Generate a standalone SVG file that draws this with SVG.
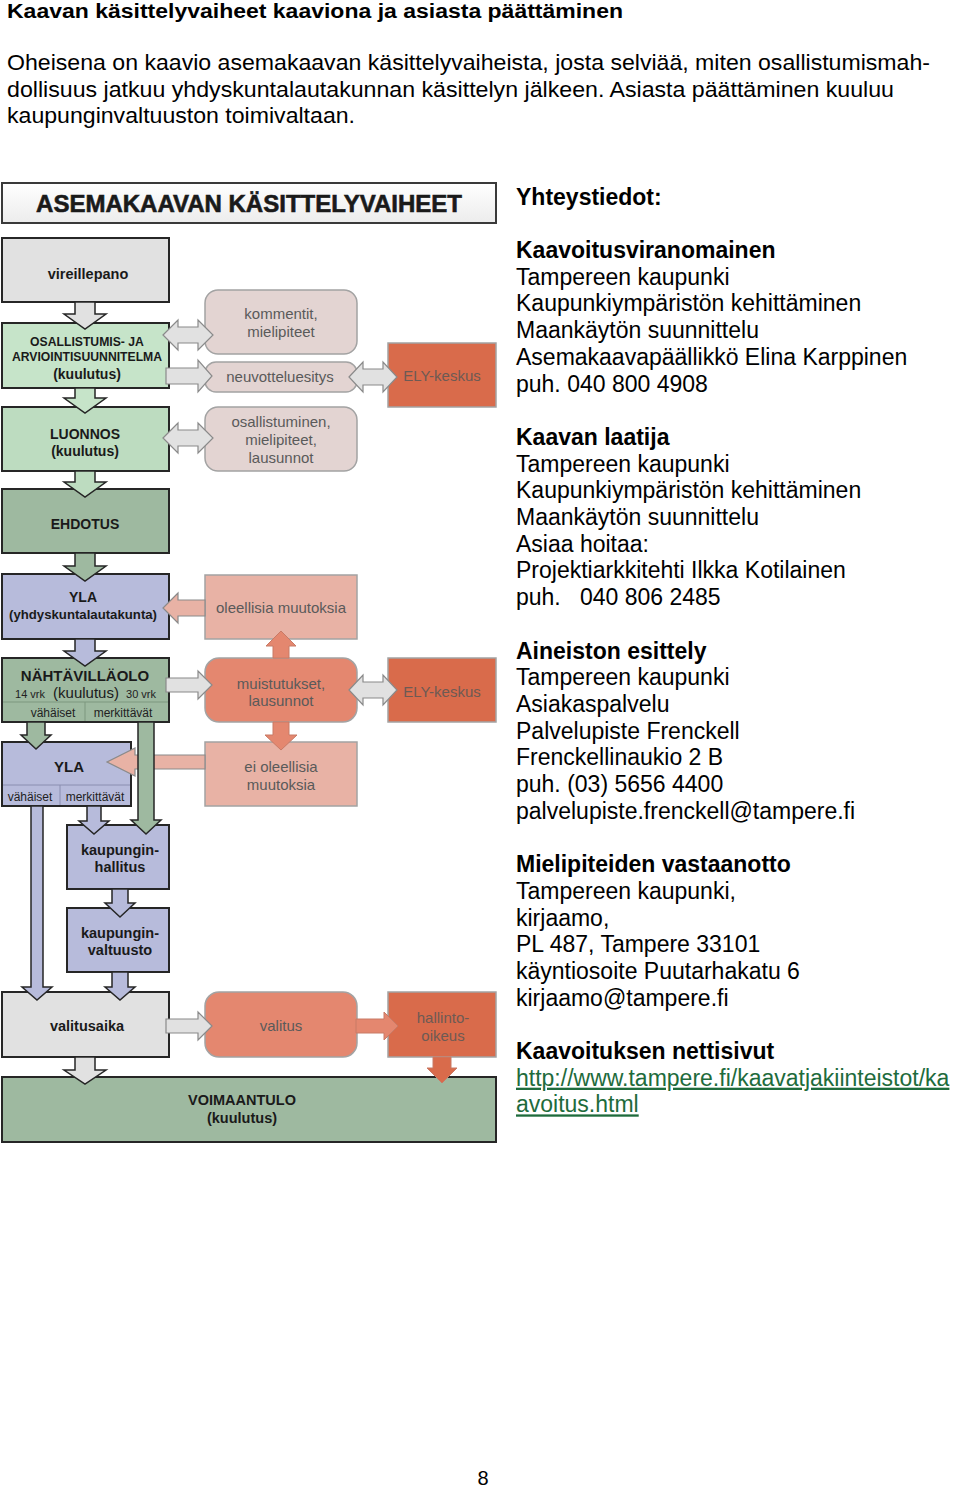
<svg xmlns="http://www.w3.org/2000/svg" width="960" height="1487" viewBox="0 0 960 1487">
<defs>
<linearGradient id="tg" x1="0" y1="0" x2="0" y2="1"><stop offset="0" stop-color="#ffffff"/><stop offset="1" stop-color="#ececec"/></linearGradient>
</defs>
<style>
text{font-family:"Liberation Sans",Arial,sans-serif}
.hd{font-size:20px;font-weight:bold;fill:#000}
.bd{font-size:22px;fill:#000}
.rt{font-size:23px;fill:#000}
.rb{font-size:23px;font-weight:bold;fill:#000}
.lk{font-size:23px;fill:#1e6b3c;text-decoration:underline}
.lb{stroke:#262626;stroke-width:2}
.mb{stroke:#a3a3a3;stroke-width:1.5}
.t{font-weight:bold;fill:#1a1a1a;text-anchor:middle}
.m{fill:#5a5a5a;text-anchor:middle;font-size:15px}
.e{fill:#6d5a54;text-anchor:middle;font-size:15px}
.s{fill:#222;text-anchor:middle;font-size:12px}
.gray{fill:#e1e1e1}.lg1{fill:#c6e4c9}.lg2{fill:#bddcc0}.dg{fill:#9eb9a0}.lav{fill:#b7bbdb}
.pk{fill:#e3d4d2}.sl{fill:#e8b2a5}.sa{fill:#e4876f}.or{fill:#d96b4b}
.la{stroke:#262626;stroke-width:1.5;stroke-linejoin:miter}
.ma{stroke:#8a8a8a;stroke-width:1.2}
.sa2{stroke:#c87a66;stroke-width:1}
</style>

<!-- page text -->
<text class="hd" x="7" y="18" textLength="616" lengthAdjust="spacingAndGlyphs">Kaavan käsittelyvaiheet kaaviona ja asiasta päättäminen</text>
<text class="bd" x="7" y="70" textLength="923" lengthAdjust="spacingAndGlyphs">Oheisena on kaavio asemakaavan käsittelyvaiheista, josta selviää, miten osallistumismah-</text>
<text class="bd" x="7" y="97" textLength="887" lengthAdjust="spacingAndGlyphs">dollisuus jatkuu yhdyskuntalautakunnan käsittelyn jälkeen. Asiasta päättäminen kuuluu</text>
<text class="bd" x="7" y="123" textLength="348" lengthAdjust="spacingAndGlyphs">kaupunginvaltuuston toimivaltaan.</text>

<!-- diagram title -->
<g id="title">
<rect x="2" y="183" width="494" height="40" fill="url(#tg)" stroke="#3a3a3a" stroke-width="2"/>
<text x="249" y="212" text-anchor="middle" font-size="24" font-weight="bold" fill="#1a1a1a" stroke="#1a1a1a" stroke-width="0.6">ASEMAKAAVAN KÄSITTELYVAIHEET</text>
</g>

<!-- left column -->
<g id="vireillepano">
<rect class="lb gray" x="2" y="238" width="167" height="64"/>
<text class="t" x="88" y="279" font-size="14.5">vireillepano</text>
</g>
<g id="oas">
<rect class="lb lg1" x="2" y="323" width="167" height="65"/>
<text class="t" x="87" y="346" font-size="12.2">OSALLISTUMIS- JA</text>
<text class="t" x="87" y="361" font-size="12.2">ARVIOINTISUUNNITELMA</text>
<text class="t" x="87" y="379" font-size="14">(kuulutus)</text>
</g>
<g id="luonnos">
<rect class="lb lg2" x="2" y="407" width="167" height="64"/>
<text class="t" x="85" y="439" font-size="14">LUONNOS</text>
<text class="t" x="85" y="456" font-size="14">(kuulutus)</text>
</g>
<g id="ehdotus">
<rect class="lb dg" x="2" y="489" width="167" height="64"/>
<text class="t" x="85" y="529" font-size="14">EHDOTUS</text>
</g>
<g id="yla">
<rect class="lb lav" x="2" y="574" width="167" height="65"/>
<text class="t" x="83" y="602" font-size="14">YLA</text>
<text class="t" x="83" y="619" font-size="13.2">(yhdyskuntalautakunta)</text>
</g>
<g id="nahtavillaolo">
<rect class="lb dg" x="2" y="658" width="167" height="64"/>
<line x1="3" y1="702" x2="168" y2="702" stroke="#7d977f" stroke-width="1"/>
<line x1="85" y1="702" x2="85" y2="721" stroke="#7d977f" stroke-width="1"/>
<text class="t" x="85" y="681" font-size="15">NÄHTÄVILLÄOLO</text>
<text x="30" y="698" text-anchor="middle" font-size="11" fill="#222">14 vrk</text>
<text x="86" y="698" text-anchor="middle" font-size="15" fill="#1a1a1a">(kuulutus)</text>
<text x="141" y="698" text-anchor="middle" font-size="11" fill="#222">30 vrk</text>
<text class="s" x="53" y="717">vähäiset</text>
<text class="s" x="123" y="717">merkittävät</text>
</g>
<g id="yla2">
<rect class="lb lav" x="2" y="742" width="129" height="64"/>
<line x1="3" y1="785" x2="130" y2="785" stroke="#8a8eb0" stroke-width="1"/>
<line x1="60" y1="785" x2="60" y2="805" stroke="#8a8eb0" stroke-width="1"/>
<text class="t" x="69" y="772" font-size="15">YLA</text>
<text class="s" x="30" y="801">vähäiset</text>
<text class="s" x="95" y="801">merkittävät</text>
</g>
<g id="kaupunginhallitus">
<rect class="lb lav" x="67" y="825" width="102" height="64"/>
<text class="t" x="120" y="855" font-size="14.5">kaupungin-</text>
<text class="t" x="120" y="872" font-size="14.5">hallitus</text>
</g>
<g id="kaupunginvaltuusto">
<rect class="lb lav" x="67" y="908" width="102" height="64"/>
<text class="t" x="120" y="938" font-size="14.5">kaupungin-</text>
<text class="t" x="120" y="955" font-size="14.5">valtuusto</text>
</g>
<g id="valitusaika">
<rect class="lb gray" x="2" y="992" width="167" height="65"/>
<text class="t" x="87" y="1031" font-size="14.5">valitusaika</text>
</g>
<g id="voimaantulo">
<rect class="lb dg" x="2" y="1077" width="494" height="65"/>
<text class="t" x="242" y="1105" font-size="14.5">VOIMAANTULO</text>
<text class="t" x="242" y="1123" font-size="14.5">(kuulutus)</text>
</g>

<!-- middle column -->
<g id="kommentit">
<rect class="mb pk" x="205" y="290" width="152" height="64" rx="13"/>
<text class="m" x="281" y="319">kommentit,</text>
<text class="m" x="281" y="337">mielipiteet</text>
</g>
<g id="neuvotteluesitys">
<rect class="mb pk" x="205" y="362" width="152" height="30" rx="11"/>
<text class="m" x="280" y="382">neuvotteluesitys</text>
</g>
<g id="osallistuminen">
<rect class="mb pk" x="205" y="407" width="152" height="64" rx="13"/>
<text class="m" x="281" y="427">osallistuminen,</text>
<text class="m" x="281" y="445">mielipiteet,</text>
<text class="m" x="281" y="463">lausunnot</text>
</g>
<g id="oleellisia">
<rect class="mb sl" x="205" y="575" width="152" height="64"/>
<text class="m" x="281" y="613">oleellisia muutoksia</text>
</g>
<g id="muistutukset">
<rect class="mb sa" x="205" y="658" width="152" height="64" rx="14"/>
<text class="m" x="281" y="689">muistutukset,</text>
<text class="m" x="281" y="706">lausunnot</text>
</g>
<g id="ei-oleellisia">
<rect class="mb sl" x="205" y="742" width="152" height="64"/>
<text class="m" x="281" y="772">ei oleellisia</text>
<text class="m" x="281" y="790">muutoksia</text>
</g>
<g id="valitus">
<rect class="mb sa" x="205" y="992" width="152" height="65" rx="14"/>
<text class="m" x="281" y="1031">valitus</text>
</g>

<!-- right column -->
<g id="ely1">
<rect class="mb or" x="388" y="343" width="108" height="64"/>
<text class="e" x="442" y="381">ELY-keskus</text>
</g>
<g id="ely2">
<rect class="mb or" x="388" y="658" width="108" height="64"/>
<text class="e" x="442" y="697">ELY-keskus</text>
</g>
<g id="hallinto-oikeus">
<rect class="mb or" x="388" y="992" width="108" height="65"/>
<text class="e" x="443" y="1023">hallinto-</text>
<text class="e" x="443" y="1041">oikeus</text>
</g>

<!-- connectors -->
<g id="connectors">
<path class="la gray" d="M75 302 H95 V314 H106 L85 329 L64 314 H75 Z"/>
<path class="la lg1" d="M75 388 H95 V398 H106 L85 413 L64 398 H75 Z"/>
<path class="la lg2" d="M75 471 H95 V482 H106 L85 497 L64 482 H75 Z"/>
<path class="la dg" d="M75 553 H95 V566 H106 L85 581 L64 566 H75 Z"/>
<path class="la lav" d="M75 639 H95 V651 H106 L85 666 L64 651 H75 Z"/>
<path class="la dg" d="M27 722 H45 V735 H51 L36 749 L21 735 H27 Z"/>
<path class="ma sl" d="M205 755 H135 V748 L107 762 L135 776 V769 H205 Z"/>
<path class="la dg" d="M138 722 H154 V820 H161 L146 834 L131 820 H138 Z"/>
<path class="la lav" d="M87 806 H101 V821 H109 L94 834 L79 821 H87 Z"/>
<path class="la lav" d="M31 806 H43 V987 H52 L37 1000 L22 987 H31 Z"/>
<path class="la lav" d="M112 889 H128 V903 H135 L120 917 L105 903 H112 Z"/>
<path class="la lav" d="M112 972 H128 V987 H135 L120 1000 L105 987 H112 Z"/>
<path class="la gray" d="M75 1057 H95 V1070 H106 L85 1084 L64 1070 H75 Z"/>
<path class="sa2 or" d="M433 1057 H451 V1068 H457 L442 1083 L427 1068 H433 Z"/>

<path class="ma gray" d="M163 335 L178 320 V327 H198 V320 L213 335 L198 350 V343 H178 V350 Z"/>
<path class="ma gray" d="M163 438 L178 423 V430 H198 V423 L213 438 L198 453 V446 H178 V453 Z"/>
<path class="ma gray" d="M349 377 L363 362 V369 H383 V362 L397 377 L383 392 V385 H363 V392 Z"/>
<path class="ma gray" d="M349 690 L363 675 V682 H383 V675 L397 690 L383 705 V698 H363 V705 Z"/>
<path class="ma gray" d="M166 368 H198 V360 L212 376 L198 392 V384 H166 Z"/>
<path class="ma gray" d="M166 678 H198 V671 L212 685 L198 699 V692 H166 Z"/>
<path class="ma gray" d="M166 1019 H198 V1012 L212 1026 L198 1040 V1033 H166 Z"/>
<path class="sa2 sa" d="M356 1019 H384 V1012 L398 1026 L384 1040 V1033 H356 Z"/>
<path class="ma sl" d="M205 600 H178 V593 L163 608 L178 623 V616 H205 Z"/>
<path class="sa2 sa" d="M273 658 V646 H266 L281 631 L296 646 H289 V658 Z"/>
<path class="sa2 sa" d="M273 722 V735 H265 L281 750 L297 735 H289 V722 Z"/>
</g>

<!-- contact info -->
<g id="contacts">
<text class="rb" x="516" y="205">Yhteystiedot:</text>
<text class="rb" x="516" y="258">Kaavoitusviranomainen</text>
<text class="rt" x="516" y="284.7">Tampereen kaupunki</text>
<text class="rt" x="516" y="311.4">Kaupunkiympäristön kehittäminen</text>
<text class="rt" x="516" y="338.1">Maankäytön suunnittelu</text>
<text class="rt" x="516" y="364.8">Asemakaavapäällikkö Elina Karppinen</text>
<text class="rt" x="516" y="391.5">puh. 040 800 4908</text>
<text class="rb" x="516" y="444.9">Kaavan laatija</text>
<text class="rt" x="516" y="471.6">Tampereen kaupunki</text>
<text class="rt" x="516" y="498.3">Kaupunkiympäristön kehittäminen</text>
<text class="rt" x="516" y="525">Maankäytön suunnittelu</text>
<text class="rt" x="516" y="551.7">Asiaa hoitaa:</text>
<text class="rt" x="516" y="578.4">Projektiarkkitehti Ilkka Kotilainen</text>
<text class="rt" x="516" y="605.1" xml:space="preserve">puh.   040 806 2485</text>
<text class="rb" x="516" y="658.5">Aineiston esittely</text>
<text class="rt" x="516" y="685.2">Tampereen kaupunki</text>
<text class="rt" x="516" y="711.9">Asiakaspalvelu</text>
<text class="rt" x="516" y="738.6">Palvelupiste Frenckell</text>
<text class="rt" x="516" y="765.3">Frenckellinaukio 2 B</text>
<text class="rt" x="516" y="792">puh. (03) 5656 4400</text>
<text class="rt" x="516" y="818.7">palvelupiste.frenckell@tampere.fi</text>
<text class="rb" x="516" y="872.1">Mielipiteiden vastaanotto</text>
<text class="rt" x="516" y="898.8">Tampereen kaupunki,</text>
<text class="rt" x="516" y="925.5">kirjaamo,</text>
<text class="rt" x="516" y="952.2">PL 487, Tampere 33101</text>
<text class="rt" x="516" y="978.9">käyntiosoite Puutarhakatu 6</text>
<text class="rt" x="516" y="1005.6">kirjaamo@tampere.fi</text>
<text class="rb" x="516" y="1059">Kaavoituksen nettisivut</text>
<text class="lk" x="516" y="1085.7">http://www.tampere.fi/kaavatjakiinteistot/ka</text>
<text class="lk" x="516" y="1112.4">avoitus.html</text>
</g>

<text x="483" y="1485" text-anchor="middle" font-size="20" fill="#000">8</text>
</svg>
